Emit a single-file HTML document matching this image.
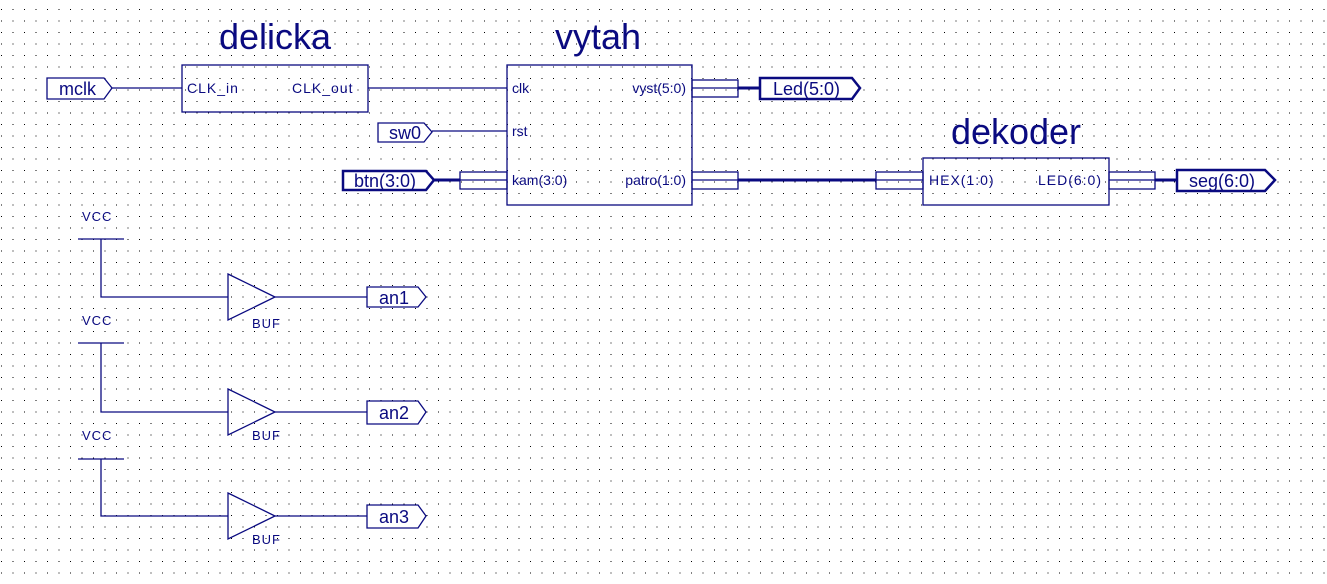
<!DOCTYPE html>
<html><head><meta charset="utf-8"><style>
html,body{margin:0;padding:0;background:#fff;}
svg{display:block;}
text{font-family:"Liberation Sans",sans-serif;fill:#0a0a80;}
</style></head><body>
<svg width="1327" height="584" xmlns="http://www.w3.org/2000/svg">
<defs>
<pattern id="g" x="1" y="9" width="11.5" height="11.5" patternUnits="userSpaceOnUse">
<rect x="0" y="0" width="1" height="1" fill="#000"/>
</pattern>
</defs>
<rect width="1327" height="584" fill="#fff"/>
<rect width="1327" height="584" fill="url(#g)"/>
<g stroke="#0a0a80" fill="none" stroke-width="1.3">
<polygon points="47,78 104,78 112,88 104,99 47,99" fill="#fff"/>
<line x1="112" y1="88" x2="182" y2="88"/>
<rect x="182" y="65" width="186" height="47"/>
<line x1="368" y1="88" x2="507" y2="88"/>
<rect x="507" y="65" width="185" height="140"/>
<polygon points="378,123 424,123 432,132 424,142 378,142" fill="#fff"/>
<line x1="432" y1="131" x2="507" y2="131"/>
<polygon points="343,171 426,171 434,180 426,190 343,190" fill="#fff" stroke-width="2.5"/>
<line x1="434" y1="180" x2="460" y2="180" stroke-width="3"/>
<rect x="460" y="172" width="47" height="17"/><line x1="460" y1="180" x2="507" y2="180"/>
<rect x="692" y="80" width="46" height="17"/><line x1="692" y1="88" x2="738" y2="88"/>
<line x1="738" y1="88" x2="760" y2="88" stroke-width="3"/>
<polygon points="760,78 852,78 860,88 852,99 760,99" fill="#fff" stroke-width="2.5"/>
<rect x="692" y="172" width="46" height="17"/><line x1="692" y1="180" x2="738" y2="180"/>
<line x1="738" y1="180" x2="876" y2="180" stroke-width="3"/>
<rect x="876" y="172" width="47" height="17"/><line x1="876" y1="180" x2="923" y2="180"/>
<rect x="923" y="158" width="186" height="47"/>
<rect x="1109" y="172" width="46" height="17"/><line x1="1109" y1="180" x2="1155" y2="180"/>
<line x1="1155" y1="180" x2="1177" y2="180" stroke-width="3"/>
<polygon points="1177,170 1265,170 1275,180 1265,191 1177,191" fill="#fff" stroke-width="2.5"/>
<line x1="78" y1="239" x2="124" y2="239"/><polyline points="101,239 101,297 228,297"/>
<polygon points="228,274 275,297 228,320"/><line x1="275" y1="297" x2="367" y2="297"/>
<polygon points="367,287 418,287 426,297 418,307 367,307" fill="#fff"/>
<line x1="78" y1="343" x2="124" y2="343"/><polyline points="101,343 101,412 228,412"/>
<polygon points="228,389 275,412 228,435"/><line x1="275" y1="412" x2="367" y2="412"/>
<polygon points="367,401 418,401 426,412 418,424 367,424" fill="#fff"/>
<line x1="78" y1="459" x2="124" y2="459"/><polyline points="101,459 101,516 228,516"/>
<polygon points="228,493 275,516 228,539"/><line x1="275" y1="516" x2="367" y2="516"/>
<polygon points="367,505 418,505 426,516 418,528 367,528" fill="#fff"/>
</g>
<g>
<text x="275" y="49" font-size="36" text-anchor="middle">delicka</text>
<text x="598" y="49" font-size="36" text-anchor="middle">vytah</text>
<text x="1016" y="144" font-size="36" text-anchor="middle">dekoder</text>
<text x="59" y="95" font-size="18">mclk</text>
<text x="187" y="93" font-size="14" letter-spacing="1">CLK_in</text>
<text x="292" y="93" font-size="14" letter-spacing="1">CLK_out</text>
<text x="512" y="93" font-size="14">clk</text>
<text x="512" y="136" font-size="14">rst</text>
<text x="512" y="185" font-size="14">kam(3:0)</text>
<text x="686" y="93" font-size="14" text-anchor="end">vyst(5:0)</text>
<text x="686" y="185" font-size="14" text-anchor="end">patro(1:0)</text>
<text x="389" y="139" font-size="18">sw0</text>
<text x="354" y="187" font-size="18">btn(3:0)</text>
<text x="773" y="95" font-size="18">Led(5:0)</text>
<text x="929" y="185" font-size="14" letter-spacing="1">HEX(1:0)</text>
<text x="1102" y="185" font-size="14" text-anchor="end" letter-spacing="1">LED(6:0)</text>
<text x="1189" y="187" font-size="18">seg(6:0)</text>
<text x="82" y="221" font-size="13" letter-spacing="1">VCC</text>
<text x="82" y="325" font-size="13" letter-spacing="1">VCC</text>
<text x="82" y="440" font-size="13" letter-spacing="1">VCC</text>
<text x="252" y="328" font-size="13" letter-spacing="1">BUF</text>
<text x="252" y="440" font-size="13" letter-spacing="1">BUF</text>
<text x="252" y="544" font-size="13" letter-spacing="1">BUF</text>
<text x="379" y="304" font-size="18">an1</text>
<text x="379" y="419" font-size="18">an2</text>
<text x="379" y="523" font-size="18">an3</text>
</g>
</svg>
</body></html>
